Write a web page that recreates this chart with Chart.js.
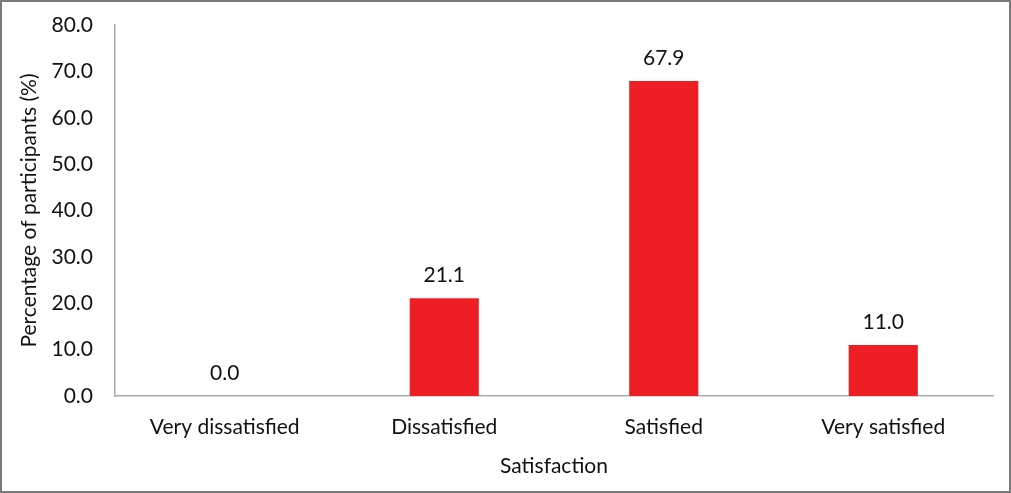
<!DOCTYPE html>
<html>
<head>
<meta charset="utf-8">
<script src="https://cdn.jsdelivr.net/npm/chart.js@4"></script>
<style>
html,body{margin:0;padding:0;background:#fff;}
canvas{display:block;}
</style>
</head>
<body>
<canvas id="c" width="1011" height="493"></canvas>
<script>
const categories = ["Very dissatisfied", "Dissatisfied", "Satisfied", "Very satisfied"];
const percentages = [0.0, 21.1, 67.9, 11.0];
const yTickValues = [0, 10, 20, 30, 40, 50, 60, 70, 80];

const FONT = "Lato, 'Open Sans', sans-serif";
const TXT = '#111';

const frame = {
  id: 'frame',
  beforeDraw(chart) {
    const ctx = chart.ctx;
    ctx.save();
    ctx.fillStyle = '#fff';
    ctx.fillRect(0, 0, chart.width, chart.height);
    ctx.strokeStyle = '#7a7a7a';
    ctx.lineWidth = 2;
    ctx.strokeRect(1, 1, chart.width - 2, chart.height - 2);
    ctx.restore();
  }
};

const valueLabels = {
  id: 'valueLabels',
  afterDatasetsDraw(chart) {
    const ctx = chart.ctx;
    const meta = chart.getDatasetMeta(0);
    ctx.save();
    ctx.font = "21px " + FONT;
    ctx.fillStyle = TXT;
    ctx.textAlign = 'center';
    ctx.textBaseline = 'middle';
    meta.data.forEach((bar, i) => {
      ctx.fillText(percentages[i].toFixed(1), bar.x, bar.y - 23);
    });
    ctx.restore();
  }
};

new Chart(document.getElementById('c'), {
  type: 'bar',
  data: {
    labels: categories,
    datasets: [{
      data: percentages,
      backgroundColor: '#ed1f24',
      borderWidth: 0,
      categoryPercentage: 1.0,
      barPercentage: 0.315
    }]
  },
  options: {
    responsive: false,
    animation: false,
    layout: { padding: { left: 0, right: 18, top: 25, bottom: 0 } },
    plugins: { legend: { display: false }, tooltip: { enabled: false } },
    scales: {
      x: {
        grid: { display: false, drawTicks: false },
        border: { display: true, color: '#ababab', width: 1.5 },
        ticks: { color: TXT, font: { family: FONT, size: 21 }, padding: 19, maxRotation: 0 },
        title: { display: true, text: 'Satisfaction', color: TXT, font: { family: FONT, size: 21 }, padding: { top: 0, bottom: 14 } },
        afterFit(scale) { scale.height = 97; }
      },
      y: {
        min: 0, max: 80,
        afterBuildTicks(scale) { scale.ticks = yTickValues.map(v => ({ value: v })); },
        grid: { display: false, drawTicks: false },
        border: { display: true, color: '#ababab', width: 1.5 },
        ticks: { color: TXT, font: { family: FONT, size: 21 }, padding: 22, callback: v => Number(v).toFixed(1) },
        title: { display: true, text: 'Percentage of participants (%)', color: TXT, font: { family: FONT, size: 21 }, padding: { top: 17, bottom: 0 } },
        afterFit(scale) { scale.width = 115; scale.paddingTop = 0; scale.paddingBottom = 0; }
      }
    }
  },
  plugins: [frame, valueLabels]
});
</script>
</body>
</html>
